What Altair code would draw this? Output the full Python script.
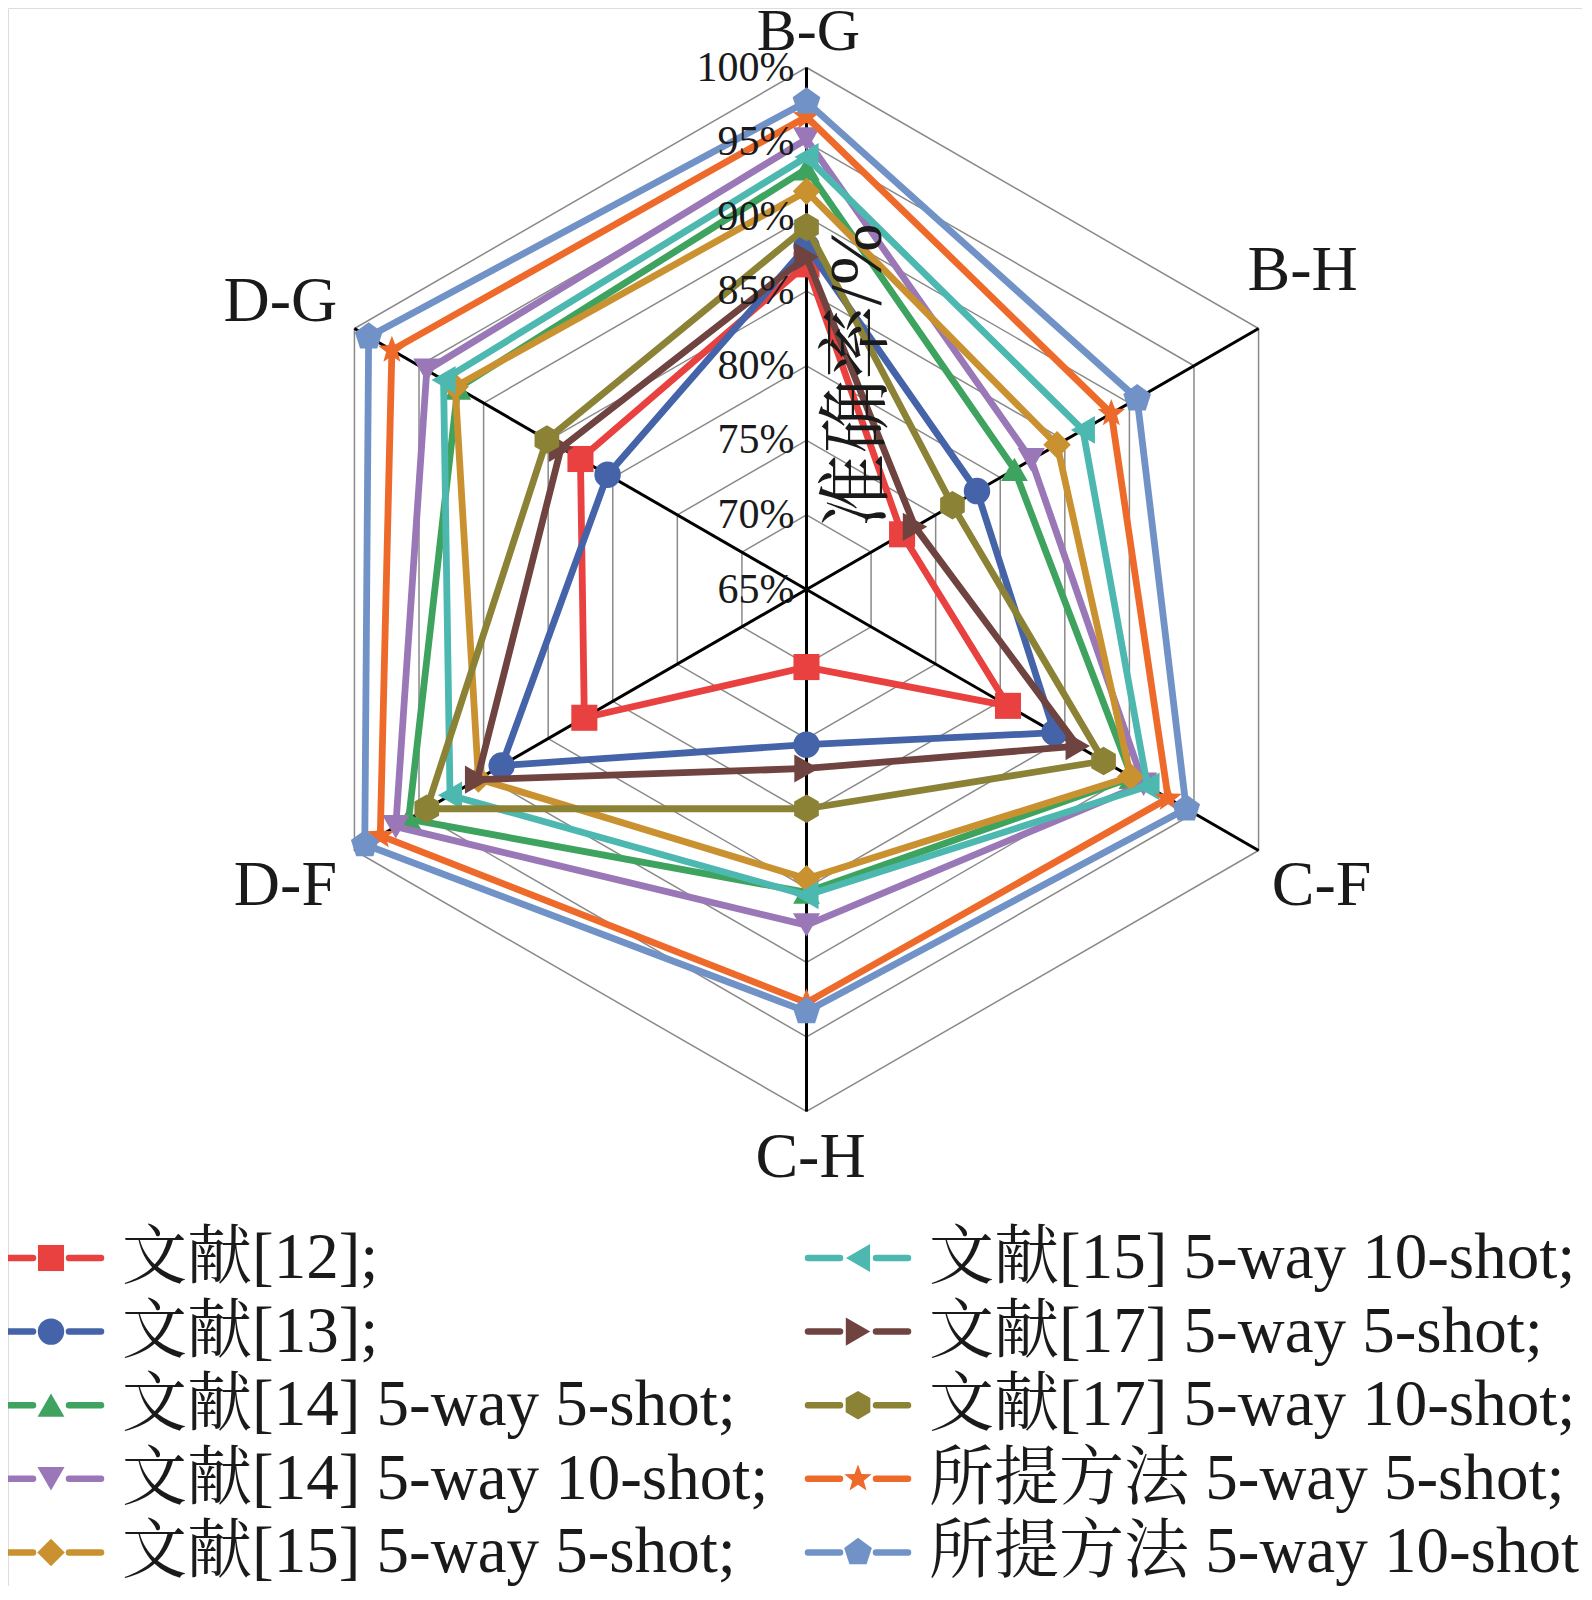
import altair as alt
import pandas as pd

# ---------------- data ----------------
axes_names = ["B-G", "B-H", "C-F", "C-H", "D-F", "D-G"]

series_names = [
    "文献[12];",
    "文献[13];",
    "文献[14] 5-way 5-shot;",
    "文献[14] 5-way 10-shot;",
    "文献[15] 5-way 5-shot;",
    "文献[15] 5-way 10-shot;",
    "文献[17] 5-way 5-shot;",
    "文献[17] 5-way 10-shot;",
    "所提方法 5-way 5-shot;",
    "所提方法 5-way 10-shot",
]

# accuracy (%) per axis: B-G, B-H, C-F, C-H, D-F, D-G
v_ref12 = [86.8, 72.4, 80.6, 70.2, 82.2, 82.5]
v_ref13 = [88.0, 78.2, 84.2, 75.4, 88.6, 80.4]
v_ref14_5 = [93.2, 81.1, 90.2, 85.3, 95.8, 92.0]
v_ref14_10 = [95.2, 82.4, 91.1, 87.5, 96.8, 94.4]
v_ref15_5 = [91.7, 84.4, 90.1, 84.4, 90.4, 92.2]
v_ref15_10 = [94.0, 86.4, 91.4, 85.5, 92.6, 93.1]
v_ref17_5 = [87.3, 73.4, 86.0, 77.0, 90.5, 84.0]
v_ref17_10 = [89.3, 76.3, 88.0, 79.7, 94.4, 85.1]
v_ours_5 = [96.7, 88.6, 93.0, 92.7, 98.0, 97.1]
v_ours_10 = [97.7, 90.6, 94.4, 93.3, 99.2, 98.9]

tick_values = [65, 70, 75, 80, 85, 90, 95, 100]
tick_labels = ["65%", "70%", "75%", "80%", "85%", "90%", "95%", "100%"]
axis_title = "准确率/%"

series_values = [v_ref12, v_ref13, v_ref14_5, v_ref14_10, v_ref15_5,
                 v_ref15_10, v_ref17_5, v_ref17_10, v_ours_5, v_ours_10]

# ---------------- styles / layout ----------------
colors = ["#E8413F", "#4563A8", "#3DA35E", "#9A78B8", "#C9912F",
          "#4CB8B0", "#6F4340", "#8B8236", "#EE6A2A", "#7192C6"]
PENTAGON = "M0,-1L0.951,-0.309L0.588,0.809L-0.588,0.809L-0.951,-0.309Z"
HEXAGON = "M0,-1L0.866,-0.5L0.866,0.5L0,1L-0.866,0.5L-0.866,-0.5Z"
STAR = ("M0,-1L0.247,-0.34L0.951,-0.309L0.399,0.13L0.588,0.809L0,0.42"
        "L-0.588,0.809L-0.399,0.13L-0.951,-0.309L-0.247,-0.34Z")
shapes = ["square", "circle", "triangle-up", "triangle-down", "diamond",
          "triangle-left", "triangle-right", HEXAGON, STAR, PENTAGON]
sizes = [680, 850, 1000, 950, 1000, 1000, 1000, 1000, 950, 1100]

# offsets (px) of each axis label from that axis' outer (100%) vertex
label_dx = [2, 44, 63, 4, -69, -74]
label_dy = [-36, -58, 35, 46, 35, -27]
label_size = [60, 64, 64, 64, 64, 64]

FONT = "'Liberation Serif', 'Noto Serif CJK SC', 'Noto Sans CJK SC', serif"

W, H = 1574, 1578
CX, CY = 798.5, 581.5
PPU = 522.0 / 35.0   # pixels per percentage point

# ---------------- tables ----------------
rows = []
for i, (name, vals) in enumerate(zip(series_names, series_values)):
    for j in range(7):
        rows.append({"series": name, "sid": i, "ord": j,
                     "axis": axes_names[j % 6], "value": vals[j % 6]})
df = pd.DataFrame(rows)

df_grid = pd.DataFrame([{"value": lv, "ord": j}
                        for lv in tick_values[1:] for j in range(7)])
df_spoke = pd.DataFrame([{"axis": a, "ord": j, "value": tick_values[-1],
                          "dx": label_dx[j], "dy": label_dy[j],
                          "fs": label_size[j]}
                         for j, a in enumerate(axes_names)])
df_ticks = pd.DataFrame({"value": tick_values, "label": tick_labels})
df_title = pd.DataFrame({"title": [axis_title]})
df_leg = pd.DataFrame({"series": series_names,
                       "sid": list(range(len(series_names)))})

xs = alt.Scale(domain=[0, W], nice=False, zero=False)
ys = alt.Scale(domain=[0, H], reverse=True, nice=False, zero=False)
cscale = alt.Scale(domain=series_names, range=colors)
shscale = alt.Scale(domain=series_names, range=shapes)
szscale = alt.Scale(domain=series_names, range=sizes)

ANG = "(PI/2 - datum.ord * PI/3)"
calc_x = f"{CX} + (datum.value - 65) * {PPU} * cos({ANG})"
calc_y = f"{CY} - (datum.value - 65) * {PPU} * sin({ANG})"


def X(f):
    return alt.X(f, scale=xs, axis=None)


def Y(f):
    return alt.Y(f, scale=ys, axis=None)


layers = []

# grid hexagons
layers.append(
    alt.Chart(df_grid).transform_calculate(px=calc_x, py=calc_y)
    .mark_line(color="#8A8A8A", strokeWidth=1.5)
    .encode(x=X("px:Q"), y=Y("py:Q"), detail="value:Q", order="ord:Q")
)

# spokes
layers.append(
    alt.Chart(df_spoke).transform_calculate(px=calc_x, py=calc_y,
                                            cx=f"{CX}", cy=f"{CY}")
    .mark_rule(color="#000000", strokeWidth=3)
    .encode(x=X("cx:Q"), y=Y("cy:Q"), x2="px:Q", y2="py:Q")
)

# series
for i in range(len(series_names)):
    base = alt.Chart(df).transform_filter(f"datum.sid == {i}") \
        .transform_calculate(px=calc_x, py=calc_y)
    layers.append(
        base.mark_line(strokeWidth=6.8, strokeJoin="round")
        .encode(x=X("px:Q"), y=Y("py:Q"), order="ord:Q",
                color=alt.Color("series:N", scale=cscale, legend=None))
    )
    layers.append(
        base.transform_filter("datum.ord < 6")
        .mark_point(filled=True, opacity=1)
        .encode(x=X("px:Q"), y=Y("py:Q"),
                color=alt.Color("series:N", scale=cscale, legend=None),
                shape=alt.Shape("series:N", scale=shscale, legend=None),
                size=alt.Size("series:O", scale=szscale, legend=None))
    )

# tick labels
layers.append(
    alt.Chart(df_ticks)
    .transform_calculate(tx=f"{CX} - 12", ty=f"{CY} - (datum.value - 65) * {PPU}")
    .mark_text(align="right", baseline="middle", font=FONT, fontSize=42,
               color="#1a1a1a")
    .encode(x=X("tx:Q"), y=Y("ty:Q"), text="label:N")
)

# axis category labels
layers.append(
    alt.Chart(df_spoke)
    .transform_calculate(px=calc_x, py=calc_y)
    .transform_calculate(lx="datum.px + datum.dx", ly="datum.py + datum.dy")
    .mark_text(align="center", baseline="middle", font=FONT, color="#1a1a1a")
    .encode(x=X("lx:Q"), y=Y("ly:Q"), text="axis:N",
            size=alt.Size("fs:Q", scale=None, legend=None))
)

# radial axis title
layers.append(
    alt.Chart(df_title)
    .transform_calculate(tx=f"{CX} + 52", ty=f"{CY} - 214")
    .mark_text(align="center", baseline="middle", angle=270, font=FONT,
               fontSize=74, color="#1a1a1a")
    .encode(x=X("tx:Q"), y=Y("ty:Q"), text="title:N")
)

# legend
leg = alt.Chart(df_leg).transform_calculate(
    mx="43 + floor(datum.sid / 5) * 807",
    my="1250 + (datum.sid % 5) * 73.6",
).transform_calculate(
    a1="datum.mx - 50", a2="datum.mx - 18",
    b1="datum.mx + 18", b2="datum.mx + 50",
    tx="datum.mx + 71",
)
leg_color = alt.Color("series:N", scale=cscale, legend=None)
layers.append(leg.mark_rule(strokeWidth=6.5, strokeCap="round")
              .encode(x=X("a1:Q"), x2="a2:Q", y=Y("my:Q"), color=leg_color))
layers.append(leg.mark_rule(strokeWidth=6.5, strokeCap="round")
              .encode(x=X("b1:Q"), x2="b2:Q", y=Y("my:Q"), color=leg_color))
layers.append(leg.mark_point(filled=True, opacity=1)
              .encode(x=X("mx:Q"), y=Y("my:Q"), color=leg_color,
                      shape=alt.Shape("series:N", scale=shscale, legend=None),
                      size=alt.Size("series:O", scale=szscale, legend=None)))
layers.append(leg.mark_text(align="left", baseline="middle", font=FONT,
                            fontSize=65, color="#1a1a1a")
              .encode(x=X("tx:Q"), y=Y("my:Q"), text="series:N"))

chart = alt.layer(*layers).properties(
    width=W, height=H, padding=0,
    autosize=alt.AutoSizeParams(type="none"),
).configure_view(strokeWidth=0).configure(background="white")

chart.save("out.html", embed_options={"renderer": "svg", "actions": False})
